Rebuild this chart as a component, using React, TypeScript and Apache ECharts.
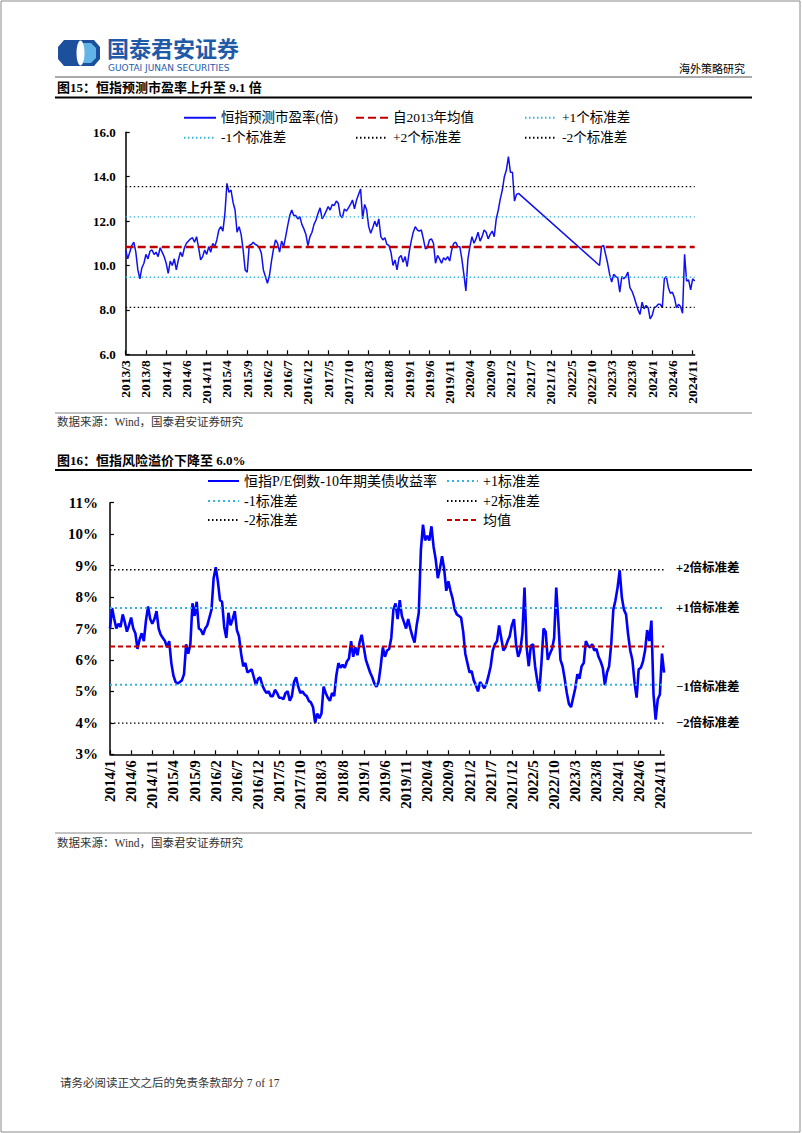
import React, { useEffect, useRef } from 'react';
import * as echarts from 'echarts';

// ---------- Chart 1: HSI forward P/E (half-monthly samples from 2013/3) ----------
const PE_START_YEAR = 2013;
const PE_START_MONTH = 3;
const PE_STEPS = 282;
const peValues: (number | null)[] = [
  10.7, 10.3, 10.6, 10.9, 11.05, 10.6, 9.8, 9.4, 9.9, 10.1,
  10.5, 10.3, 10.65, 10.7, 10.5, 10.6, 10.4, 10.8, 10.6, 10.4,
  10.1, 9.65, 10.2, 10.0, 10.3, 9.8, 10.25, 10.6, 10.4, 10.8,
  11.0, 11.1, 11.2, 11.25, 11.05, 11.3, 10.8, 10.25, 10.4, 10.7,
  10.5, 10.85, 10.6, 11.0, 10.85, 11.15, 11.6, 11.75, 11.55, 12.35,
  13.7, 13.3, 13.4, 12.85, 12.5, 11.5, 11.75, 11.4, 10.7, 9.8,
  9.7, 10.9, 10.95, 11.05, 10.95, 10.9, 10.8, 10.55, 9.8, 9.5,
  9.2, 9.55, 10.2, 10.75, 11.15, 11.0, 10.6, 11.1, 10.85, 11.3,
  11.8, 12.25, 12.5, 12.25, 12.25, 12.1, 12.2, 11.85, 11.65, 11.4,
  10.9, 11.3, 11.5, 11.85, 12.05, 12.35, 12.6, 12.1, 12.25, 12.45,
  12.65, 12.5, 12.75, 12.7, 12.9, 12.8, 12.25, 12.15, 12.55, 12.45,
  12.6, 12.75, 12.95, 12.55, 12.95, 13.2, 13.45, 12.1, 12.75, 12.5,
  11.75, 11.45, 11.7, 12.0, 11.75, 12.1, 11.3, 11.15, 11.25, 10.95,
  10.9, 10.6, 10.0, 10.25, 9.8, 10.35, 10.45, 10.15, 10.4, 9.95,
  10.6, 11.1, 11.5, 11.75, 11.6, 11.55, 11.6, 11.2, 10.75, 10.8,
  11.15, 11.2, 11.0, 10.1, 10.45, 10.3, 10.1, 10.35, 10.25, 10.4,
  10.2, 10.7, 11.0, 11.05, 10.85, 10.85, 10.3, 9.6, 8.85, 10.3,
  10.85, 11.3, 11.0, 11.2, 11.5, 11.1, 11.3, 11.6, 11.5, 11.2,
  11.4, 11.55, 11.3, 12.1, 12.5, 13.0, 13.4, 14.0, 14.3, 14.9,
  14.2, 14.2, 12.9, 13.2, 13.25,
  ...Array(39).fill(null),
  10.0, 10.85, 10.9, 10.5, 10.1, 9.6,
  9.25, 9.6, 9.5, 9.45, 8.8, 9.5, 9.4, 9.5, 9.7, 9.0,
  8.85, 8.6, 8.3, 8.0, 7.8, 8.35, 8.05, 8.2, 8.1, 7.6,
  7.75, 8.1, 8.15, 8.25, 8.25, 8.1, 9.4, 9.5, 9.0, 8.75,
  8.8, 8.55, 8.1, 8.25, 8.15, 7.85, 10.5, 9.3, 9.35, 8.9,
  9.4, 9.3,
];
const PE_MEAN = 10.83;
const PE_SD = 1.36;
const PE_NAMES = ['恒指预测市盈率(倍)', '自2013年均值', '+1个标准差', '-1个标准差', '+2个标准差', '-2个标准差'];

// ---------- Chart 2: HSI equity risk premium (half-monthly samples from 2014/1) ----------
const ERP_START_YEAR = 2014;
const ERP_START_MONTH = 1;
const ERP_STEPS = 263;
const erpValues: number[] = [
  7.0, 7.65, 7.3, 7.0, 7.15, 7.05, 7.45, 7.2, 6.9, 7.1,
  7.35, 7.0, 6.85, 6.35, 6.65, 6.85, 6.6, 7.25, 7.7, 7.3,
  7.15, 7.3, 7.55, 7.0, 6.8, 6.7, 6.6, 6.4, 6.6, 5.9,
  5.5, 5.3, 5.25, 5.3, 5.35, 5.55, 6.5, 6.2, 6.5, 7.8,
  7.4, 7.85, 7.0, 6.95, 6.8, 7.0, 7.1, 7.35, 7.6, 8.6,
  8.95, 8.5, 7.9, 7.85, 7.05, 6.7, 7.5, 7.1, 7.3, 7.55,
  6.95, 6.75, 6.2, 5.8, 5.9, 5.6, 5.65, 5.7, 5.45, 5.2,
  5.4, 5.45, 5.2, 5.05, 4.95, 5.0, 4.85, 4.85, 5.05, 4.95,
  4.8, 4.8, 4.75, 4.95, 5.0, 4.7, 4.85, 5.3, 5.45, 5.15,
  4.95, 5.0, 4.9, 4.85, 4.7, 4.65, 4.5, 4.0, 4.3, 4.15,
  4.3, 5.15, 4.95, 4.8, 4.7, 4.95, 4.85, 5.5, 5.9, 5.75,
  5.85, 5.75, 5.95, 6.05, 6.6, 6.1, 6.4, 6.15, 6.55, 6.8,
  6.4, 6.0, 5.8, 5.6, 5.45, 5.25, 5.15, 5.3, 5.8, 6.4,
  6.1, 6.3, 6.35, 6.7, 7.6, 7.8, 7.3, 7.9, 7.4, 7.2,
  7.0, 7.3, 7.0, 6.75, 6.55, 7.1, 7.5, 9.5, 10.3, 9.8,
  9.95, 9.8, 10.25, 9.6, 9.2, 8.6, 8.9, 9.3, 8.9, 8.2,
  8.5, 8.2, 7.95, 7.6, 7.45, 7.4, 7.35, 6.9, 6.2, 5.9,
  5.6, 5.65, 5.35, 5.2, 5.0, 5.3, 5.2, 5.1, 5.25, 5.5,
  5.8, 6.3, 6.5, 6.6, 7.1, 6.7, 6.3, 6.4, 6.6, 6.75,
  7.1, 7.3, 6.5, 6.1, 6.3, 6.85, 8.3, 6.4, 5.8, 6.45,
  6.5, 5.8, 5.35, 5.0, 5.9, 7.0, 6.9, 6.0, 6.2, 6.35,
  6.7, 8.3, 7.2, 6.0, 5.8, 5.4, 4.95, 4.6, 4.5, 4.8,
  5.1, 5.55, 5.4, 5.8, 5.9, 6.6, 6.45, 6.4, 6.5, 6.3,
  6.35, 6.1, 5.95, 5.75, 5.2, 5.6, 5.8, 6.5, 7.6, 7.9,
  8.3, 8.85, 8.0, 7.6, 7.45, 6.8, 6.3, 6.0, 5.3, 4.8,
  5.7, 5.75, 5.95, 6.3, 6.95, 6.6, 7.25, 4.9, 4.1, 4.75,
  4.9, 6.2, 5.6,
];
const ERP_MEAN = 6.43;
const ERP_SD = 1.22;
const ERP_NAMES = ['恒指P/E倒数-10年期美债收益率', '+1标准差', '-1标准差', '+2标准差', '-2标准差', '均值'];
const ERP_SIDE_LABELS = ['+2倍标准差', '+1倍标准差', '−1倍标准差', '−2倍标准差'];

const SERIF = "'Liberation Serif', 'Times New Roman', 'Noto Sans CJK SC', serif";
const CJK = "'Noto Sans CJK SC', sans-serif";

function halfMonthCats(y0: number, m0: number, n: number): string[] {
  const out: string[] = [];
  for (let k = 0; k < n; k++) {
    const mi = Math.floor(k / 2);
    const y = y0 + Math.floor((m0 - 1 + mi) / 12);
    const m = ((m0 - 1 + mi) % 12) + 1;
    out.push(k % 2 === 0 ? `${y}/${m}` : `${y}/${m} `);
  }
  return out;
}

const BLUE = '#1010f0';
const RED = '#c00000';
const CYAN = '#35b4dc';

export default function App() {
  const ref = useRef<HTMLDivElement>(null);
  useEffect(() => {
    if (!ref.current) return;
    const chart = echarts.init(ref.current, null, { renderer: 'svg' });
    const peCats = halfMonthCats(PE_START_YEAR, PE_START_MONTH, PE_STEPS);
    const erpCats = halfMonthCats(ERP_START_YEAR, ERP_START_MONTH, ERP_STEPS);
    const every10 = (i: number) => i % 10 === 0;
    const konst = (cats: string[], v: number) => cats.map(() => v);

    const xAxisBase = (gridIndex: number, cats: string[], fs: number) => ({
      type: 'category',
      gridIndex,
      data: cats,
      boundaryGap: false,
      axisLine: { lineStyle: { color: '#000', width: 1.5 } },
      axisTick: { inside: true, length: 4, interval: every10, lineStyle: { color: '#000', width: 1.2 } },
      axisLabel: {
        interval: every10,
        rotate: 90,
        margin: 6,
        color: '#000',
        fontWeight: 'bold',
        fontSize: fs,
        fontFamily: SERIF,
      },
      splitLine: { show: false },
    });
    const yAxisBase = (gridIndex: number, min: number, max: number, interval: number, fs: number, margin: number, fmt: (v: number) => string) => ({
      type: 'value',
      gridIndex,
      min,
      max,
      interval,
      axisLine: { show: true, lineStyle: { color: '#000', width: 1.5 } },
      axisTick: { show: true, inside: true, length: 4, lineStyle: { color: '#000', width: 1.2 } },
      axisLabel: { color: '#000', fontWeight: 'bold', fontSize: fs, fontFamily: SERIF, margin, formatter: fmt },
      splitLine: { show: false },
    });

    const refLine = (name: string, xi: number, data: number[], color: string, width: number, type: any, extra: any = {}) => ({
      name,
      type: 'line',
      xAxisIndex: xi,
      yAxisIndex: xi,
      data,
      symbol: 'none',
      silent: true,
      lineStyle: { color, width, type },
      itemStyle: { color },
      z: 3,
      ...extra,
    });
    const sideLabel = (text: string, dy: number) => ({
      endLabel: {
        show: true,
        formatter: text,
        distance: 12,
        offset: [0, dy],
        color: '#000',
        fontWeight: 'bold',
        fontSize: 12.5,
        fontFamily: SERIF,
      },
    });

    const legendItem = (name: string, left: number, top: number, iw: number, fs: number) => ({
      data: [name],
      left,
      top,
      padding: 0,
      itemWidth: iw,
      itemHeight: 10,
      itemGap: 4,
      selectedMode: false,
      itemStyle: { opacity: 0 },
      textStyle: { color: '#000', fontSize: fs, fontFamily: SERIF, padding: [0, 0, 0, 0] },
    });

    const T = (text: string, x: number, y: number, font: string, fill = '#000', align = 'left') => ({
      type: 'text',
      silent: true,
      style: { text, x, y, font, fill, textAlign: align, textVerticalAlign: 'middle', align, verticalAlign: 'middle' },
    });
    const L = (x1: number, y1: number, x2: number, y2: number, stroke: string, lineWidth: number) => ({
      type: 'line',
      silent: true,
      shape: { x1, y1, x2, y2 },
      style: { stroke, lineWidth },
    });

    chart.setOption({
      animation: false,
      backgroundColor: '#fff',
      grid: [
        { left: 125.7, top: 132.3, width: 569, height: 222 },
        { left: 110, top: 502.7, width: 554.1, height: 251.6 },
      ],
      xAxis: [xAxisBase(0, peCats, 13.5), xAxisBase(1, erpCats, 15)],
      yAxis: [
        yAxisBase(0, 6, 16, 2, 13, 10, (v: number) => v.toFixed(1)),
        yAxisBase(1, 3, 11, 1, 15, 12, (v: number) => `${v}%`),
      ],
      legend: [
        legendItem(PE_NAMES[0], 183, 111, 32, 13.5),
        legendItem(PE_NAMES[1], 355, 111, 32, 13.5),
        legendItem(PE_NAMES[2], 524, 111, 32, 13.5),
        legendItem(PE_NAMES[3], 183, 131, 32, 13.5),
        legendItem(PE_NAMES[4], 355, 131, 32, 13.5),
        legendItem(PE_NAMES[5], 524, 131, 32, 13.5),
        legendItem(ERP_NAMES[0], 207, 474, 31, 14),
        legendItem(ERP_NAMES[1], 446, 474, 31, 14),
        legendItem(ERP_NAMES[2], 207, 494, 31, 14),
        legendItem(ERP_NAMES[3], 446, 494, 31, 14),
        legendItem(ERP_NAMES[4], 207, 513, 31, 14),
        legendItem(ERP_NAMES[5], 446, 513, 31, 14),
      ],
      series: [
        {
          name: PE_NAMES[0],
          type: 'line',
          xAxisIndex: 0,
          yAxisIndex: 0,
          data: peValues,
          connectNulls: true,
          symbol: 'none',
          lineStyle: { color: BLUE, width: 1.5 },
          itemStyle: { color: BLUE },
          z: 2,
        },
        refLine(PE_NAMES[1], 0, konst(peCats, PE_MEAN), RED, 2.6, [8, 4], { z: 4 }),
        refLine(PE_NAMES[2], 0, konst(peCats, PE_MEAN + PE_SD), CYAN, 1.4, [1.5, 2.5]),
        refLine(PE_NAMES[3], 0, konst(peCats, PE_MEAN - PE_SD), CYAN, 1.4, [1.5, 2.5]),
        refLine(PE_NAMES[4], 0, konst(peCats, PE_MEAN + 2 * PE_SD), '#000', 1.3, [1.5, 2.5]),
        refLine(PE_NAMES[5], 0, konst(peCats, PE_MEAN - 2 * PE_SD), '#000', 1.3, [1.5, 2.5]),
        {
          name: ERP_NAMES[0],
          type: 'line',
          xAxisIndex: 1,
          yAxisIndex: 1,
          data: erpValues,
          symbol: 'none',
          lineStyle: { color: '#0000ff', width: 2.6 },
          itemStyle: { color: '#0000ff' },
          z: 2,
        },
        refLine(ERP_NAMES[1], 1, konst(erpCats, ERP_MEAN + ERP_SD), CYAN, 2, [2, 3], sideLabel(ERP_SIDE_LABELS[1], 0)),
        refLine(ERP_NAMES[2], 1, konst(erpCats, ERP_MEAN - ERP_SD), CYAN, 2, [2, 3], sideLabel(ERP_SIDE_LABELS[2], 2)),
        refLine(ERP_NAMES[3], 1, konst(erpCats, ERP_MEAN + 2 * ERP_SD), '#000', 1.4, [1.5, 2.5], sideLabel(ERP_SIDE_LABELS[0], -2)),
        refLine(ERP_NAMES[4], 1, konst(erpCats, ERP_MEAN - 2 * ERP_SD), '#000', 1.4, [1.5, 2.5], sideLabel(ERP_SIDE_LABELS[3], 0)),
        refLine(ERP_NAMES[5], 1, konst(erpCats, ERP_MEAN), RED, 2, [5, 3], { z: 4 }),
      ],
      graphic: [
        { type: 'rect', silent: true, shape: { x: 1, y: 1, width: 799, height: 1131 }, style: { fill: 'none', stroke: '#8a8a8a', lineWidth: 1 } },
        // logo
        { type: 'polygon', silent: true, shape: { points: [[64, 40], [94, 40], [100, 47], [100, 59], [94, 66], [64, 66], [58, 59], [58, 47]] }, style: { fill: '#1c4f9c' } },
        { type: 'polygon', silent: true, shape: { points: [[83, 43], [91, 43], [96, 48], [96, 58], [91, 63], [83, 63]] }, style: { fill: '#62b3e6' } },
        { type: 'ellipse', silent: true, shape: { cx: 80.5, cy: 53, rx: 4, ry: 12.5 }, style: { fill: '#ffffff' } },
        T('国泰君安证券', 107, 46.5, `bold 22px ${CJK}`, '#1f5aa8'),
        T('GUOTAI JUNAN SECURITIES', 108, 68, `9px 'DejaVu Sans', sans-serif`, '#1f5aa8'),
        T('海外策略研究', 745, 68, `11px ${CJK}`, '#000', 'right'),
        L(55, 77, 752, 77, '#555', 1),
        T('图15：恒指预测市盈率上升至 9.1 倍', 57, 87, `bold 13px ${SERIF}`),
        L(55, 97.5, 752, 97.5, '#000', 2),
        L(55, 413, 752, 413, '#888', 1),
        T('数据来源：Wind，国泰君安证券研究', 57, 422, `11.5px ${SERIF}`, '#333'),
        T('图16：恒指风险溢价下降至 6.0%', 57, 460, `bold 13px ${SERIF}`),
        L(55, 470, 752, 470, '#000', 2),
        L(55, 833, 752, 833, '#888', 1),
        T('数据来源：Wind，国泰君安证券研究', 57, 843, `11.5px ${SERIF}`, '#333'),
        T('请务必阅读正文之后的免责条款部分 7 of 17', 60, 1083, `11.5px ${SERIF}`, '#333'),
      ],
    });
    return () => chart.dispose();
  }, []);
  return <div ref={ref} style={{ position: 'absolute', left: 0, top: 0, width: 802, height: 1133 }} />;
}
